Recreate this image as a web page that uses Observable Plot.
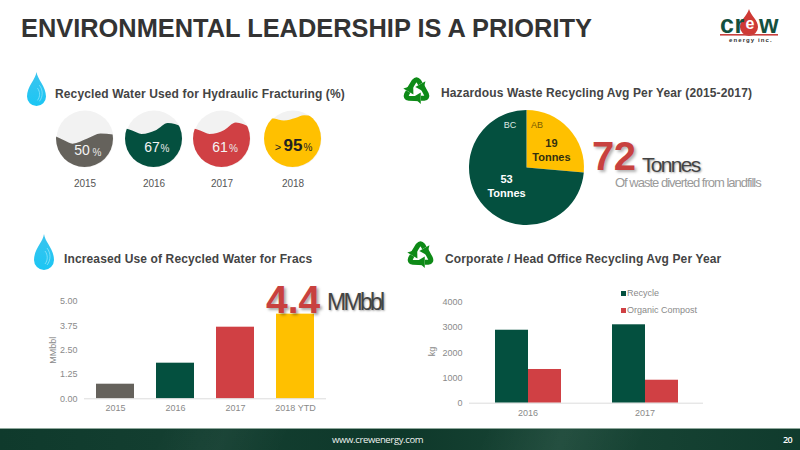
<!DOCTYPE html>
<html><head><meta charset="utf-8">
<script src="https://cdn.jsdelivr.net/npm/d3@7"></script>
<script src="https://cdn.jsdelivr.net/npm/@observablehq/plot@0.6"></script>
<style>
html,body{margin:0;padding:0;background:#fff}
#page{position:relative;width:800px;height:450px;overflow:hidden;font-family:"Liberation Sans",Arial,sans-serif;background:#fff}
.t{position:absolute;white-space:nowrap;line-height:1}
.sec{font-weight:bold;font-size:12px;color:#444;letter-spacing:.13px}
.abs{position:absolute}
.abs svg{display:block;overflow:visible}
#footer{position:absolute;left:0;top:428px;width:800px;height:22px;border-top:1px solid #8fa89c;box-sizing:border-box;
background:
 linear-gradient(115deg,transparent 20%,rgba(255,255,255,.035) 28%,transparent 36%,transparent 60%,rgba(255,255,255,.05) 70%,transparent 80%),
 linear-gradient(90deg,#0f3a2c,#143f31 25%,#0e382a 50%,#194636 70%,#103b2d)}
</style></head><body>
<div id="page"></div>
<script>
// ---- data ----
const circleYears = ["2015","2016","2017","2018"];
const circleValues = ["50","67","61","95"];
const circlePrefix = ["","","",">"];
const waveX = [
  [-1,-0.7,-0.42,0.1,0.56,1],
  [-1,-0.75,-0.42,0.1,0.5,1],
  [-1,-0.75,-0.42,0.1,0.5,1],
  [-1,-0.65,-0.3,0.1,0.41,1]
];
const waveY = [
  [0.07,-0.07,-0.18,0,0.175,0.14],
  [0.36,0.28,0.16,0.3,0.54,0.42],
  [0.36,0.28,0.16,0.3,0.56,0.4],
  [0.72,0.70,0.63,0.72,0.82,0.74]
];
const pieRegions = ["AB","BC"];
const pieValues = [19,53];
const pieLabels = ["19\nTonnes","53\nTonnes"];
const fracYears = ["2015","2016","2017","2018 YTD"];
const fracValues = [0.75,1.83,3.68,4.35];
const fracTicks = [0,1.25,2.5,3.75,5];
const officeYears = ["2016","2017"];
const officeSeries = ["Recycle","Organic Compost"];
const recycleKg = [2890,3105];
const compostKg = [1335,910];
const officeTicks = [0,1000,2000,3000,4000];
// ---- palette / layout ----
const GREY="#65625c",GREEN="#04503f",RED="#d04044",AMBER="#ffc000",AXIS="#8a8a8a";
const circleColors=[GREY,GREEN,RED,AMBER];
const circleCx=[84,153.5,221,292], circleCy=[138,138.5,138,138];
const numDx=[-3,-2,-2,0], numDy=[35,31.5,31.5,28], pctDx=[12,11,11.5,15], pctDy=[38,34,34,33];
const page=document.getElementById("page");
function text(s,l,t,css){const d=document.createElement("div");d.className="t";d.textContent=s;d.style.left=l+"px";d.style.top=t+"px";if(css)d.style.cssText+=css;page.appendChild(d);return d}
function place(n,l,t){const d=document.createElement("div");d.className="abs";d.style.left=l+"px";d.style.top=t+"px";d.appendChild(n);page.appendChild(d)}
function svgIcon(markup,l,t,w,h,vb){const d=document.createElement("div");d.className="abs";d.style.left=l+"px";d.style.top=t+"px";d.innerHTML=`<svg width="${w}" height="${h}" viewBox="${vb}">${markup}</svg>`;page.appendChild(d)}
const plotStyle={background:"transparent",fontFamily:"'Liberation Sans',Arial,sans-serif"};

// header
text("ENVIRONMENTAL LEADERSHIP IS A PRIORITY",21,16,"font-size:25.4px;font-weight:bold;color:#333");
// logo
svgIcon(`<path d="M29 0 C31 7 38 11 38 18 A9 9 0 0 1 20 18 C20 11 27 7 29 0Z" fill="#cf3a35"/>`,720,9,58,30,"0 0 58 30");
text("cr",720,12,"font-size:25px;font-weight:bold;color:#14503f;letter-spacing:.6px");
text("e",745.5,16,"font-size:16px;font-weight:bold;color:#fff");
text("w",759,12,"font-size:25px;font-weight:bold;color:#14503f");
svgIcon(`<rect width="58" height="1.6" fill="#c8413f"/>`,720,33.5,58,2,"0 0 58 2");
text("energy inc.",729,37,"font-size:6px;font-weight:bold;color:#333;letter-spacing:1.1px");

// section icons
const dropMk=id=>`<defs><linearGradient id="${id}" x1="0" y1="0" x2="0" y2="1"><stop offset="0" stop-color="#3cc4ee"/><stop offset="1" stop-color="#1bc6f4"/></linearGradient></defs>
<path d="M10 0 C11 8 20 15 20 26 A10 10 0 0 1 0 26 C0 15 9 8 10 0Z" fill="url(#${id})"/>
<path d="M13 14 C17 19 17 26 13 31 M11 17 C14 21 14 26 11 30" fill="none" stroke="#9be8fb" stroke-width="1" opacity=".7"/>`;
svgIcon(dropMk("d1"),27,71,19,36,"0 0 20 36");
svgIcon(dropMk("d2"),32,234,24,36,"0 0 20 36");
const arrow=`<path d="M-10.5 -1 L-3 -13 Q0 -17 3 -13 L5 -9.5" fill="none" stroke="#0e8a17" stroke-width="6.5" stroke-linejoin="round"/><path d="M11.5 -13 L-1.5 -5.5 L8.5 0Z" fill="#0e8a17"/>`;
const recy=[0,120,240].map(a=>`<g transform="rotate(${a})">${arrow}</g>`).join("");
svgIcon(`<g transform="translate(0,1)">${recy}</g>`,401,75,31,31,"-20 -20 40 40");
svgIcon(`<g transform="translate(0,1)">${recy}</g>`,405,239,31,31,"-20 -20 40 40");

// section titles
text("Recycled Water Used for Hydraulic Fracturing (%)",55,88).className="t sec";
text("Hazardous Waste Recycling Avg Per Year (2015-2017)",441,87).className="t sec";
text("Increased Use of Recycled Water for Fracs",64,253).className="t sec";
text("Corporate / Head Office Recycling Avg Per Year",445,253).className="t sec";

// water-level circles
circleYears.forEach((yr,i)=>{
  const pts=waveX[i].map((x,k)=>({x,y:waveY[i][k]}));
  const light=i<3;
  const D=57;
  const waveMark=(index,{x,y})=>{
    const id="clip"+i;
    const g=d3.create("svg:g");
    g.append("clipPath").attr("id",id).append("circle").attr("cx",x(0)).attr("cy",y(0)).attr("r",D/2);
    g.append("path").attr("clip-path",`url(#${id})`).attr("fill",circleColors[i])
      .attr("d",d3.area().curve(d3.curveMonotoneX).x(d=>x(d.x)).y0(y(-1)).y1(d=>y(d.y))(pts));
    return g.node();
  };
  const ink=light?"#f4f4f4":"#222";
  const plot=Plot.plot({
    width:D,height:D+19,margin:0,axis:null,style:plotStyle,
    x:{domain:[-1,1],range:[0,D]},y:{domain:[-1,1],range:[D,0]},
    marks:[
      Plot.dot([0],{x:()=>0,y:()=>0,r:D/2,fill:"#f2f2f2",stroke:"none"}),
      waveMark,
      circlePrefix[i]?Plot.text([circlePrefix[i]],{frameAnchor:"top",dy:33,dx:-15,text:d=>d,lineAnchor:"top",fontSize:11,fill:ink}):null,
      Plot.text([circleValues[i]],{frameAnchor:"top",dy:numDy[i],dx:numDx[i],text:d=>d,lineAnchor:"top",
        fontSize:i==3?17:14,fontWeight:i==3?"bold":"normal",fill:ink}),
      Plot.text(["%"],{frameAnchor:"top",dy:pctDy[i],dx:pctDx[i],text:d=>d,lineAnchor:"top",fontSize:10,fill:light?"#e8e8e8":"#222"}),
      Plot.text([yr],{frameAnchor:"bottom",text:d=>d,lineAnchor:"bottom",fontSize:10,fill:"#555"})
    ]
  });
  place(plot,circleCx[i]-D/2,circleCy[i]-D/2);
});

// pie
{
  const R=57.5, slices=d3.pie().sort(null)(pieValues);
  const arc=d3.arc().innerRadius(0).outerRadius(R);
  const labelArc=d3.arc().innerRadius(R*.6).outerRadius(R*.6);
  const rows=slices.map((s,i)=>{const c=labelArc.centroid(s);return{region:pieRegions[i],label:pieLabels[i],x:c[0],y:c[1],color:i?GREEN:AMBER,ink:i?"#fff":"#33300f"}});
  const pieMark=(index,{x,y})=>{
    const g=d3.create("svg:g").attr("transform",`translate(${x(0)},${y(0)})`);
    g.selectAll("path").data(slices).join("path").attr("d",arc).attr("fill",(d,i)=>rows[i].color);
    return g.node();
  };
  const plot=Plot.plot({
    width:2*R,height:2*R,margin:0,axis:null,style:plotStyle,
    x:{domain:[-R,R],range:[0,2*R]},y:{domain:[-R,R],range:[0,2*R]},
    marks:[
      pieMark,
      Plot.text([rows[0]],{x:"x",y:"y",text:"label",fill:"ink",fontWeight:"bold",fontSize:11,lineHeight:1.3,dx:-1,dy:5}),
      Plot.text([rows[1]],{x:"x",y:"y",text:"label",fill:"ink",fontWeight:"bold",fontSize:11,lineHeight:1.2,dx:5,dy:-5.5}),
      Plot.text([rows[0]],{frameAnchor:"top",dx:10,dy:11,text:"region",lineAnchor:"top",fill:"#7a5c00",fontSize:9}),
      Plot.text([rows[1]],{frameAnchor:"top",dx:-17,dy:11,text:"region",lineAnchor:"top",fill:"#dfe9e5",fontSize:9})
    ]
  });
  place(plot,526-R,167.5-R);
}
text("72",592,136,"font-size:40px;font-weight:bold;color:#c8413f;text-shadow:2px 2px 3px rgba(0,0,0,.3);letter-spacing:-.5px");
text("Tonnes",642,154,"font-size:21px;color:#444;letter-spacing:-1.7px;text-shadow:1px 1px 2px rgba(0,0,0,.35)");
text("Of waste diverted from landfills",615,176,"font-size:13px;color:#9a9a9a;letter-spacing:-1px");

// frac bars
{
  const rows=fracYears.map((y,i)=>({y,v:fracValues[i],c:circleColors[i]}));
  const plot=Plot.plot({
    width:400,height:130,marginLeft:84,marginRight:74,marginTop:11,marginBottom:21.7,style:{...plotStyle,fontSize:"9px"},
    x:{domain:fracYears,paddingInner:.372,paddingOuter:.186,label:null},
    y:{domain:[0,5],label:null},
    marks:[
      Plot.barY(rows,{x:"y",y:"v",fill:"c"}),
      Plot.ruleY([0],{stroke:"#dcdcdc"}),
      Plot.axisX({tickSize:0,tickPadding:6,color:AXIS,label:null}),
      Plot.axisY({ticks:fracTicks,tickFormat:d3.format(".2f"),tickSize:0,tickPadding:7,color:AXIS,label:null}),
      Plot.text(["MMbbl"],{frameAnchor:"middle",dx:-152,rotate:-90,text:d=>d,fill:AXIS,fontSize:9})
    ]
  });
  place(plot,0,290);
}
text("4.4",266,280,"font-size:39px;font-weight:bold;color:#c8413f;text-shadow:2px 2px 3px rgba(0,0,0,.35)");
text("MMbbl",327,291,"font-size:23px;color:#444;letter-spacing:-2.7px;text-shadow:1px 1px 2px rgba(0,0,0,.35)");

// office bars
{
  const rows=officeYears.flatMap((y,i)=>[{y,s:officeSeries[0],v:recycleKg[i]},{y,s:officeSeries[1],v:compostKg[i]}]);
  const plot=Plot.plot({
    width:400,height:130,marginLeft:69,marginRight:97,marginTop:11.7,marginBottom:17.3,style:{...plotStyle,fontSize:"9px"},
    fx:{domain:officeYears,padding:0,label:null},
    x:{domain:officeSeries,paddingInner:0,paddingOuter:.746,axis:null},
    y:{domain:[0,4000],label:null},
    color:{domain:officeSeries,range:[GREEN,RED]},
    marks:[
      Plot.barY(rows,{fx:"y",x:"s",y:"v",fill:"s"}),
      Plot.ruleY([0],{stroke:"#dcdcdc"}),
      Plot.axisFx({anchor:"bottom",tickSize:0,tickPadding:6,color:AXIS,label:null}),
      Plot.axisY({ticks:officeTicks,tickFormat:d3.format("d"),tickSize:0,tickPadding:7,color:AXIS,label:null})
    ]
  });
  place(plot,400,290);
}
text("kg",428,347,"font-size:9px;color:#8a8a8a;transform:rotate(-90deg);transform-origin:center");
// legend
officeSeries.forEach((s,i)=>{
  const y=[293.5,310.5][i];
  const sw=document.createElement("div");sw.className="abs";sw.style.cssText=`left:620.5px;top:${y-2.5}px;width:5px;height:5px;background:${i?RED:GREEN}`;page.appendChild(sw);
  text(s,627,y-4.5,"font-size:9px;color:#8a8a8a");
});

// footer
const f=document.createElement("div");f.id="footer";page.appendChild(f);
text("www.crewenergy.com",332,435,'font-family:"Open Sans";font-size:9.5px;color:#eef2f0;letter-spacing:-.35px');
text("20",783,435,'font-family:"Open Sans";font-size:9px;font-weight:600;color:#fff;letter-spacing:-.6px');
</script>
</body></html>
